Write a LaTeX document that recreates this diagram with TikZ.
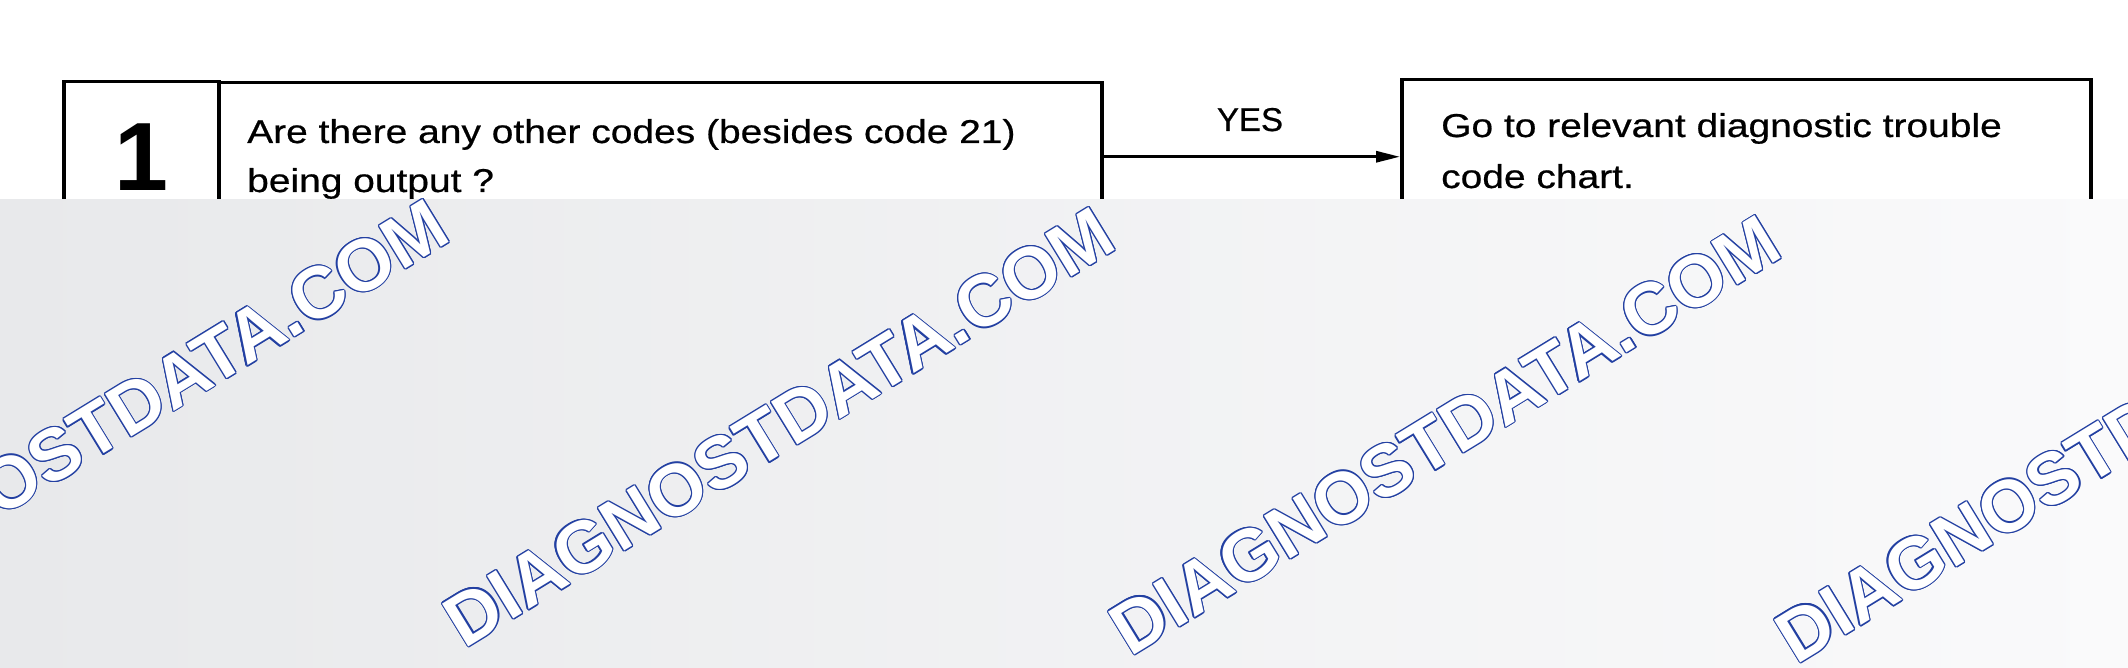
\documentclass[tikz,border=0pt]{standalone}
\usepackage{fontspec}
\setmainfont{Liberation Sans}
\newfontfamily\bodyfont[FakeStretch=1.18,FakeBold=0.6]{Liberation Sans}
\newfontfamily\yesfont[FakeBold=0.6]{Liberation Sans}
\usetikzlibrary{arrows.meta}
\definecolor{wmblue}{HTML}{2340A2}
\definecolor{greyL}{HTML}{E8E9EB}
\definecolor{greyR}{HTML}{FAFAFB}
\tikzset{
  box/.style={draw=black, line width=3.5pt, inner sep=0pt, anchor=north west},
  body/.style={font=\bodyfont\fontsize{33}{40}\selectfont, inner sep=0pt, anchor=base west},
  yeslbl/.style={font=\yesfont\fontsize{33}{40}\selectfont, inner sep=0pt, anchor=base},
  bignum/.style={font=\bfseries\fontsize{97}{97}\selectfont, inner sep=0pt},
  wm/.style={font=\bfseries\fontsize{73}{73}\selectfont, inner sep=0pt, rotate=31.5},
  conn/.style={line width=3pt, -{Triangle[length=24pt,width=11pt]}}
}
\newcommand\wmtext{DIAGNOSTDATA.COM}
\begin{document}
\begin{tikzpicture}[x=1pt,y=-1pt]
\useasboundingbox (0,0) rectangle (2128,668);
\fill[white] (0,0) rectangle (2128,668);
% boxes
\node[box, minimum width=155pt, minimum height=150pt] (b1) at (62,80) {};
\node[box, minimum width=883pt, minimum height=148pt] (q) at (217,81) {};
\node[box, minimum width=689pt, minimum height=154pt] (r) at (1400,78) {};
\node[bignum] (num) at (b1.center) {1};
\node[body] (q1) at (247,143) {Are there any other codes (besides code 21)};
\node[body] (q2) at (247,192) {being output ?};
\node[body] (r1) at (1441,137) {Go to relevant diagnostic trouble};
\node[body] (r2) at (1441,188) {code chart.};
\draw[conn] (q.east) -- (r.west);
\node[yeslbl] (yes) at (1250,131) {YES};
% grey overlay
\shade[left color=greyL, right color=greyR] (0,200) rectangle (2128,668);
% watermarks
\foreach \p [count=\i] in {(113,419),(779,427),(1445,435),(2111,443)} {
  \foreach \a in {0,30,...,330}
    \node[wm, text=wmblue, xshift={1.2*cos(\a)}, yshift={1.2*sin(\a)}] at \p {\wmtext};
  \node[wm, text=white] (wm\i) at \p {\wmtext};
}
\end{tikzpicture}
\end{document}
